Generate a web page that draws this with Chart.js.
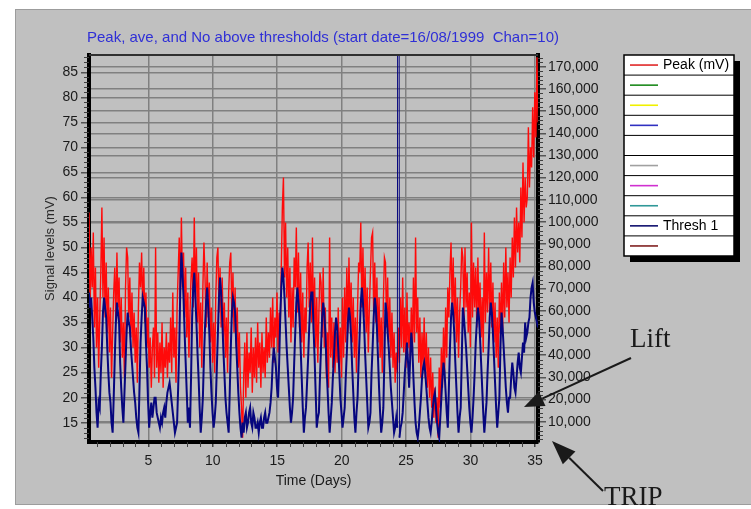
<!DOCTYPE html>
<html>
<head>
<meta charset="utf-8">
<script src="https://cdn.jsdelivr.net/npm/chart.js@4.4.1/dist/chart.umd.min.js"></script>
<style>
  body { margin: 0; background: #ffffff; }
  canvas { display: block; }
</style>
</head>
<body>
<canvas id="signalChart" width="751" height="509"></canvas>
<script>
let ctx = document.getElementById('signalChart'); // canvas in das chartjs zeichnet

let sampleStartDay = 0.4; // erster messwert in tagen
let samplesPerDay = 12;   // alle 2 stunden ein wert

let peakValues = [
  57, 38, 50, 42, 53, 34, 46, 30, 40, 26, 36, 45,
  58, 40, 52, 36, 47, 33, 42, 29, 38, 24, 33, 41,
  46, 35, 49, 38, 44, 31, 40, 28, 35, 24, 42, 50,
  48, 36, 44, 32, 41, 30, 37, 27, 34, 23, 38, 47,
  42, 49, 38, 46, 35, 41, 30, 36, 26, 32, 22, 30,
  34, 24, 50, 26, 33, 23, 31, 25, 35, 22, 30, 26,
  33, 24, 31, 27, 36, 25, 41, 28, 34, 23, 38, 45,
  52, 40, 56, 42, 49, 36, 46, 32, 41, 28, 37, 44,
  48, 38, 56, 40, 50, 35, 45, 30, 39, 26, 42, 51,
  44, 34, 47, 36, 43, 31, 38, 27, 35, 25, 40, 48,
  50, 37, 46, 34, 44, 32, 39, 28, 36, 25, 41, 47,
  49, 36, 45, 33, 42, 30, 38, 26, 33, 22, 18, 12,
  24, 31, 20, 33, 22, 29, 25, 34, 21, 30, 24, 32,
  23, 35, 26, 31, 22, 33, 25, 30, 24, 36, 27, 33,
  28, 38, 30, 40, 27, 36, 32, 41, 29, 37, 34, 46,
  58, 64, 44, 55, 40, 50, 36, 46, 31, 42, 34, 48,
  42, 54, 37, 49, 34, 45, 31, 41, 28, 38, 33, 46,
  51, 38, 47, 35, 52, 33, 44, 30, 40, 27, 37, 45,
  43, 32, 46, 30, 38, 24, 33, 22, 52, 28, 36, 26,
  35, 25, 33, 27, 38, 26, 34, 24, 40, 28, 42, 31,
  46, 33, 48, 35, 43, 31, 40, 28, 36, 25, 38, 47,
  45, 55, 38, 50, 36, 46, 33, 42, 29, 38, 45, 52,
  53, 37, 47, 35, 44, 31, 40, 28, 36, 25, 39, 48,
  47, 34, 44, 31, 40, 28, 37, 26, 33, 23, 29, 25,
  34, 27, 40, 30, 44, 29, 38, 26, 41, 30, 35, 28,
  38, 29, 44, 31, 52, 33, 40, 27, 36, 24, 33, 26,
  36, 24, 33, 22, 30, 20, 28, 18, 25, 16, 22, 15,
  20, 12, 26, 18, 30, 22, 34, 25, 38, 28, 42, 36,
  45, 51, 38, 48, 35, 44, 31, 40, 28, 37, 42, 50,
  48, 36, 50, 38, 45, 33, 41, 30, 55, 36, 47, 38,
  46, 34, 48, 36, 43, 32, 40, 29, 53, 35, 45, 37,
  50, 37, 47, 34, 43, 31, 39, 28, 36, 26, 41, 33,
  43, 33, 47, 36, 50, 38, 45, 35, 48, 40, 52, 44,
  56, 46, 58, 49, 55, 47, 62, 52, 67, 55, 64, 58,
  60, 74, 62, 70, 66, 78, 68, 81, 72, 88, 75, 95,
  70
];

let threshValues = [
  41, 38, 40, 36, 32, 26, 22, 17, 14, 19, 18, 25,
  30, 37, 40, 38, 36, 30, 25, 21, 19, 15, 13, 20,
  28, 35, 39, 37, 35, 27, 22, 18, 15, 21, 27, 33,
  37, 35, 34, 30, 27, 24, 21, 19, 16, 14, 13, 22,
  31, 36, 40, 39, 38, 31, 26, 19, 14, 17, 19, 16,
  18, 20, 20, 17, 16, 15, 14, 16, 15, 17, 18, 16,
  19, 21, 22, 23, 21, 19, 17, 15, 13, 14, 15, 22,
  30, 42, 49, 45, 40, 33, 27, 21, 15, 18, 14, 24,
  36, 42, 45, 40, 35, 29, 24, 18, 13, 16, 20, 28,
  34, 39, 42, 38, 33, 26, 21, 17, 14, 16, 19, 26,
  33, 40, 44, 41, 36, 30, 25, 20, 17, 15, 13, 21,
  30, 37, 40, 39, 37, 31, 26, 21, 17, 14, 12, 15,
  13, 16, 17, 14, 15, 17, 18, 15, 14, 17, 16, 14,
  14, 15, 13, 15, 16, 14, 14, 16, 17, 15, 15, 16,
  17, 19, 22, 27, 30, 28, 26, 22, 20, 27, 36, 42,
  46, 44, 40, 35, 30, 26, 22, 18, 15, 17, 20, 27,
  33, 39, 42, 39, 36, 30, 24, 18, 13, 16, 18, 23,
  28, 34, 39, 41, 41, 34, 28, 21, 14, 16, 17, 24,
  30, 36, 39, 37, 33, 27, 22, 17, 13, 16, 19, 24,
  28, 33, 36, 34, 30, 25, 20, 17, 14, 16, 18, 24,
  29, 35, 38, 36, 32, 26, 21, 16, 13, 17, 20, 27,
  33, 39, 42, 39, 35, 29, 24, 19, 14, 15, 17, 25,
  30, 36, 40, 38, 34, 28, 22, 17, 13, 15, 18, 28,
  39, 37, 33, 30, 26, 22, 19, 16, 13, 14, 16, 14,
  300, 12, 14, 15, 17, 21, 25, 28, 31, 27, 22, 28,
  33, 30, 24, 19, 15, 13, 12, 14, 17, 20, 24, 26,
  27, 25, 22, 19, 16, 14, 13, 15, 18, 20, 21, 18,
  15, 13, 12, 16, 20, 24, 27, 25, 21, 17, 14, 22,
  30, 36, 39, 37, 33, 27, 22, 17, 13, 16, 18, 28,
  38, 36, 33, 30, 26, 22, 18, 15, 13, 16, 20, 25,
  31, 35, 38, 36, 32, 27, 22, 17, 13, 16, 19, 25,
  30, 36, 39, 37, 33, 28, 23, 18, 14, 17, 20, 30,
  37, 34, 30, 26, 22, 19, 17, 20, 20, 24, 27, 25,
  22, 21, 24, 27, 29, 26, 25, 28, 31, 29, 35, 32,
  33, 35, 36, 40, 42, 43, 39, 37, 36, 35, 34, 33,
  33
];

let dayTicks = [5, 10, 15, 20, 25, 30, 35];
let signalTicks = [15, 20, 25, 30, 35, 40, 45, 50, 55, 60, 65, 70, 75, 80, 85];
let countTicks = [10000, 20000, 30000, 40000, 50000, 60000, 70000, 80000, 90000, 100000, 110000, 120000, 130000, 140000, 150000, 160000, 170000];
let legendLabels = ['Peak (mV)', '', '', '', '', '', '', '', 'Thresh 1', ''];

let fontSans = "'Liberation Sans', Arial, sans-serif";


// macht aus den werten punkte mit zeit in tagen
function toPoints(values) {
  return values.map((v, i) => ({ x: sampleStartDay + i / samplesPerDay, y: v }));
}


// setzt die ticks einer achse aus einem array
function ticksFrom(list) {
  return function (scale) {
    scale.ticks = list.map(v => ({ value: v }));
  };
}


// grauer hintergrund wie im original fenster
let panelPlugin = {
  id: 'panel',
  beforeDraw(chart) {
    let c = chart.ctx;
    c.save();
    c.fillStyle = '#ffffff';
    c.fillRect(0, 0, chart.width, chart.height);
    c.fillStyle = '#c0c0c0';
    c.fillRect(15, 9, chart.width - 15, 495);
    c.strokeStyle = '#9c9c9c';
    c.lineWidth = 1;
    c.strokeRect(15.5, 9.5, chart.width, 495);
    c.restore();
  }
};


// titel, oberer rand und kleine zwischen-ticks
let framePlugin = {
  id: 'frame',
  afterDraw(chart) {
    let c = chart.ctx;
    let area = chart.chartArea;
    c.save();
    c.fillStyle = '#2f2fd6';
    c.font = '15px ' + fontSans;
    c.textBaseline = 'middle';
    c.fillText('Peak, ave, and No above thresholds (start date=16/08/1999  Chan=10)', 87, 38);

    c.strokeStyle = '#303030';
    c.lineWidth = 2;
    c.beginPath();
    c.moveTo(area.left, area.top);
    c.lineTo(area.right, area.top);
    c.stroke();

    c.strokeStyle = '#404040';
    c.lineWidth = 1;
    let yLeft = chart.scales.y;
    for (let v = 12; v <= 88; v++) {
      if (v % 5 == 0) continue;
      let py = Math.round(yLeft.getPixelForValue(v)) + 0.5;
      c.beginPath(); c.moveTo(area.left - 5, py); c.lineTo(area.left, py); c.stroke();
    }
    let yRight = chart.scales.y1;
    for (let v = 2000; v <= 174000; v += 2000) {
      if (v % 10000 == 0) continue;
      let py = Math.round(yRight.getPixelForValue(v)) + 0.5;
      c.beginPath(); c.moveTo(area.right, py); c.lineTo(area.right + 5, py); c.stroke();
    }
    let xScale = chart.scales.x;
    for (let v = 1; v <= 35; v++) {
      if (v % 5 == 0) continue;
      let px = Math.round(xScale.getPixelForValue(v)) + 0.5;
      c.beginPath(); c.moveTo(px, area.bottom); c.lineTo(px, area.bottom + 5); c.stroke();
    }
    c.restore();
  }
};


// legende als tabelle mit schatten rechts
let legendPlugin = {
  id: 'tableLegend',
  afterDraw(chart) {
    let c = chart.ctx;
    let boxX = 624, boxY = 55, boxW = 110, rowH = 20.1;
    let sets = chart.data.datasets;
    let boxH = rowH * sets.length;
    c.save();
    c.fillStyle = '#000000';
    c.fillRect(boxX + 6, boxY + 6, boxW, boxH);
    c.fillStyle = '#ffffff';
    c.fillRect(boxX, boxY, boxW, boxH);
    c.strokeStyle = '#000000';
    c.lineWidth = 1.5;
    c.strokeRect(boxX, boxY, boxW, boxH);
    c.font = '14px ' + fontSans;
    c.textBaseline = 'middle';
    sets.forEach((set, i) => {
      let top = boxY + i * rowH;
      if (i > 0) {
        c.strokeStyle = '#000000';
        c.lineWidth = 1;
        c.beginPath(); c.moveTo(boxX, top); c.lineTo(boxX + boxW, top); c.stroke();
      }
      let mid = top + rowH / 2;
      c.strokeStyle = set.legendColor;
      c.lineWidth = 1.6;
      c.beginPath(); c.moveTo(630, mid); c.lineTo(658, mid); c.stroke();
      c.fillStyle = '#000000';
      c.fillText(set.label, 663, mid);
    });
    c.restore();
  }
};


// zeichnet einen pfeil mit gefüllter spitze
function drawArrow(c, fromX, fromY, toX, toY, headLength, headWidth) {
  let angle = Math.atan2(toY - fromY, toX - fromX);
  let baseX = toX - headLength * Math.cos(angle);
  let baseY = toY - headLength * Math.sin(angle);
  c.beginPath(); c.moveTo(fromX, fromY); c.lineTo(baseX, baseY); c.stroke();
  c.beginPath();
  c.moveTo(toX, toY);
  c.lineTo(baseX + headWidth / 2 * Math.sin(angle), baseY - headWidth / 2 * Math.cos(angle));
  c.lineTo(baseX - headWidth / 2 * Math.sin(angle), baseY + headWidth / 2 * Math.cos(angle));
  c.closePath();
  c.fill();
}


// beschriftung Lift und TRIP mit pfeilen
let notePlugin = {
  id: 'notes',
  afterDraw(chart) {
    let c = chart.ctx;
    c.save();
    c.fillStyle = '#1a1a1a';
    c.strokeStyle = '#1a1a1a';
    c.lineWidth = 2;
    c.font = "27px 'Liberation Serif', 'Times New Roman', serif";
    c.textBaseline = 'alphabetic';
    c.fillText('Lift', 630, 347);
    c.fillText('TRIP', 604, 505);
    drawArrow(c, 631, 358, 524, 407, 20, 16);
    drawArrow(c, 603, 491, 552, 441, 24, 18);
    c.restore();
  }
};


// ausreißer über dem bereich nur als dünne linie zeichnen
function thinOutliers(segCtx) {
  if (segCtx.p0.parsed.y > 90 || segCtx.p1.parsed.y > 90) {
    return 1;
  }
  return 2;
}


function openChart() {
  new Chart(ctx, {
    type: 'line',
    data: {
      datasets: [
        { label: legendLabels[0], data: toPoints(peakValues), borderColor: '#ff0a0a', legendColor: '#e02828', borderWidth: 1.4, order: 1, yAxisID: 'y' },
        { label: legendLabels[1], data: [], borderColor: '#1c8a1c', legendColor: '#1c8a1c', yAxisID: 'y1' },
        { label: legendLabels[2], data: [], borderColor: '#f0f000', legendColor: '#f0f000', yAxisID: 'y1' },
        { label: legendLabels[3], data: [], borderColor: '#3030c0', legendColor: '#3030c0', yAxisID: 'y1' },
        { label: legendLabels[4], data: [], borderColor: 'transparent', legendColor: 'transparent', yAxisID: 'y1' },
        { label: legendLabels[5], data: [], borderColor: '#a0a0a0', legendColor: '#a0a0a0', yAxisID: 'y1' },
        { label: legendLabels[6], data: [], borderColor: '#d030d0', legendColor: '#d030d0', yAxisID: 'y1' },
        { label: legendLabels[7], data: [], borderColor: '#309898', legendColor: '#309898', yAxisID: 'y1' },
        {
          label: legendLabels[8], data: toPoints(threshValues), borderColor: '#06067e', legendColor: '#10106e',
          borderWidth: 2, order: 0, yAxisID: 'y',
          segment: { borderWidth: thinOutliers }
        },
        { label: legendLabels[9], data: [], borderColor: '#802020', legendColor: '#802020', yAxisID: 'y1' }
      ]
    },
    options: {
      responsive: false,
      animation: false,
      layout: { padding: { left: 15, right: 133, top: 55, bottom: 7 } },
      elements: { point: { radius: 0 }, line: { tension: 0 } },
      plugins: {
        legend: { display: false }, // eigene legende weiter oben
        tooltip: { enabled: false }
      },
      scales: {
        x: {
          type: 'linear',
          min: 0.4,
          max: 35.23,
          afterBuildTicks: ticksFrom(dayTicks),
          afterFit(scale) { scale.height = 60; },
          grid: { color: '#808080', lineWidth: 1.5, tickLength: 5, tickColor: '#404040' },
          border: { display: true, color: '#000000', width: 4 },
          ticks: { color: '#1a1a1a', font: { family: fontSans, size: 14 }, padding: 6, maxRotation: 0 },
          title: { display: true, text: 'Time (Days)', color: '#1a1a1a', font: { family: fontSans, size: 14 }, padding: { top: 0, bottom: 12.6 } }
        },
        y: {
          position: 'left',
          min: 11.14,
          max: 88.46,
          afterBuildTicks: ticksFrom(signalTicks),
          afterFit(scale) { scale.width = 74; },
          grid: { color: '#808080', lineWidth: 1.5, tickLength: 8, tickColor: '#555555' },
          border: { display: true, color: '#000000', width: 4 },
          ticks: { color: '#1a1a1a', font: { family: fontSans, size: 14 }, padding: 3 },
          title: { display: true, text: 'Signal levels (mV)', color: '#2a2a2a', font: { family: fontSans, size: 13 }, padding: { top: 27.2, bottom: 0 } }
        },
        y1: {
          position: 'right',
          min: 852,
          max: 175270,
          afterBuildTicks: ticksFrom(countTicks),
          afterFit(scale) { scale.width = 80; },
          grid: { color: '#808080', lineWidth: 1.5, tickLength: 8, tickColor: '#555555' },
          border: { display: true, color: '#000000', width: 4 },
          ticks: {
            color: '#1a1a1a', font: { family: fontSans, size: 14 }, padding: 2,
            callback: v => v.toLocaleString('en-US')
          }
        }
      }
    },
    plugins: [panelPlugin, framePlugin, legendPlugin, notePlugin]
  });
}

openChart();
</script>
</body>
</html>
